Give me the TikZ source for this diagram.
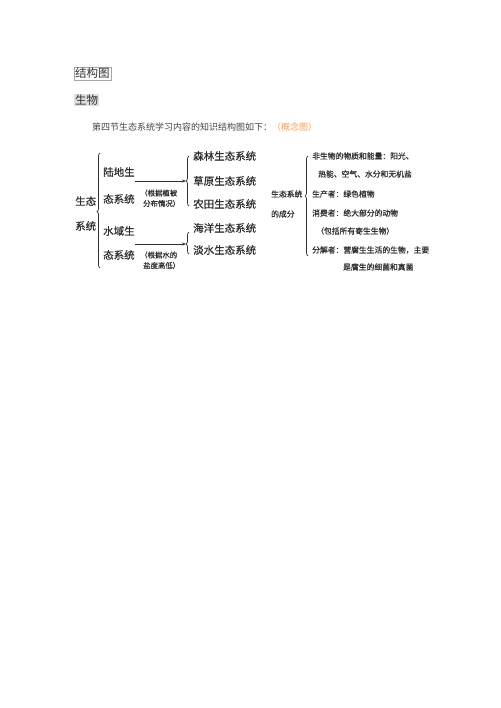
\documentclass[tikz,border=0pt]{standalone}
\usepackage{fontspec}
\setmainfont{Noto Sans CJK SC}
\newfontfamily\dgm[FakeBold=0.6]{Noto Sans CJK SC}
\usetikzlibrary{arrows.meta,decorations.pathreplacing}
\definecolor{ink}{HTML}{2E2E2E}
\definecolor{capc}{HTML}{444444}
\definecolor{orng}{HTML}{F0A060}
\tikzset{
  big/.style={inner sep=0pt,anchor=west,text=ink,font=\dgm\fontsize{10.5}{10.5}\selectfont},
  note/.style={inner sep=0pt,anchor=west,text=ink,font=\dgm\fontsize{7.4}{7.4}\selectfont},
  comp/.style={inner sep=0pt,anchor=west,text=ink,font=\dgm\fontsize{7.8}{7.8}\selectfont},
  brc/.style={draw=ink,line width=0.7pt,decorate,decoration={brace,amplitude=3pt}},
  arr/.style={draw=ink,line width=0.7pt,-{Stealth[length=4pt,width=3pt]}}
}
\begin{document}
\begin{tikzpicture}[x=1pt,y=-1pt]
\useasboundingbox[fill=white] (0,0) rectangle (500,708);
% header
\node[draw=gray!70,line width=0.4pt,inner sep=1pt,anchor=west,text=ink,font=\fontsize{11.5}{11.5}\selectfont] (title) at (74,73.5) {结构图};
\node[fill=gray!25,inner sep=1pt,anchor=west,text=ink,font=\fontsize{11.5}{11.5}\selectfont] (subj) at (74,100) {生物};
\node[inner sep=0pt,anchor=west,text=capc,font=\fontsize{9}{9}\selectfont] (cap) at (92,127) {第四节生态系统学习内容的知识结构图如下：\textcolor{orng}{（概念图）}};
% left diagram
\node[big] (st1) at (75,201) {生态};
\node[big] (st2) at (75,226) {系统};
\draw[brc,decoration={aspect=0.49}] (100,268) -- (100,153);
\node[big] (ld1) at (103,172) {陆地生};
\node[big] (ld2) at (103,199) {态系统};
\node[big] (sy1) at (103,231) {水域生};
\node[big] (sy2) at (103,255) {态系统};
\coordinate (a1s) at (135,181);
\coordinate (a1e) at (186,181);
\coordinate (a2s) at (135,244);
\coordinate (a2e) at (186,244);
\draw[arr] (a1s) -- (a1e);
\draw[arr] (a2s) -- (a2e);
\node[note] (n1) at (140,193) {（根据植被};
\node[note] (n2) at (143,203.5) {分布情况）};
\node[note] (n3) at (140,255) {（根据水的};
\node[note] (n4) at (143,265.5) {盐度高低）};
\draw[brc,decoration={aspect=0.5}] (189,206) -- (189,156);
\draw[brc,decoration={aspect=0.45}] (189,254) -- (189,232);
\node[big] (r1) at (193,156) {森林生态系统};
\node[big] (r2) at (193,181) {草原生态系统};
\node[big] (r3) at (193,204) {农田生态系统};
\node[big] (r4) at (193,228) {海洋生态系统};
\node[big] (r5) at (193,250) {淡水生态系统};
% right diagram
\node[comp] (c1) at (271,194) {生态系统};
\node[comp] (c2) at (271,214) {的成分};
\draw[brc,decoration={aspect=0.6}] (308,256) -- (308,156);
\node[comp] (k1) at (312,156) {非生物的物质和能量：阳光、};
\node[comp] (k2) at (318,174) {热能、空气、水分和无机盐};
\node[comp] (k3) at (312,194) {生产者：绿色植物};
\node[comp] (k4) at (312,213) {消费者：绝大部分的动物};
\node[comp] (k5) at (316,231) {（包括所有寄生生物）};
\node[comp] (k6) at (312,250) {分解者：营腐生生活的生物，主要};
\node[comp] (k7) at (343,267) {是腐生的细菌和真菌};
\end{tikzpicture}
\end{document}
